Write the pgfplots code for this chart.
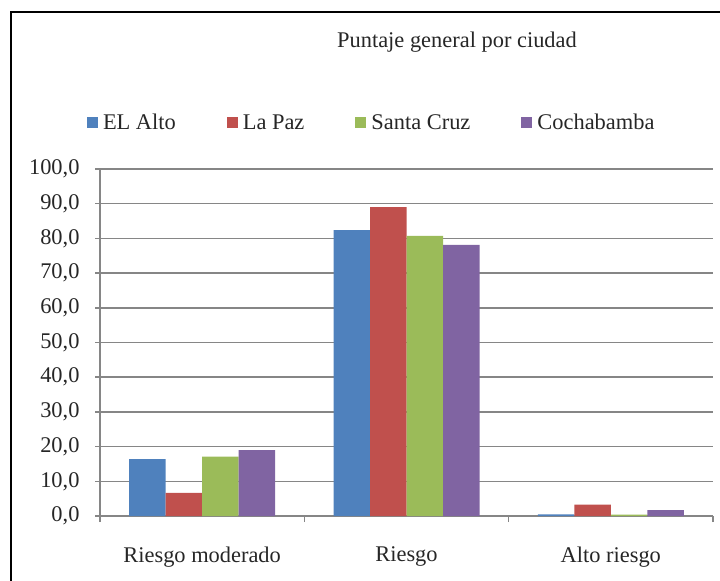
\documentclass[border=0pt]{standalone}
\usepackage{pgfplots}
\pgfplotsset{compat=1.18}
\usepackage{fontspec}
\setmainfont{Liberation Serif}
\definecolor{cAlto}{HTML}{4F81BD}
\definecolor{cPaz}{HTML}{C0504D}
\definecolor{cCruz}{HTML}{9BBB59}
\definecolor{cCbba}{HTML}{8064A2}
\definecolor{gridgray}{HTML}{868686}
\definecolor{txt}{HTML}{262626}
\newcommand{\chartfont}{\fontsize{22.5}{27}\selectfont}
\pgfplotsset{sqleg/.style={legend image code/.code={\fill (0bp,-5.5bp) rectangle (11bp,5.5bp);}}}
\begin{document}
\begin{tikzpicture}
\useasboundingbox (0bp,0bp) rectangle (720bp,-581bp);
\clip (0bp,0bp) rectangle (720bp,-581bp);
% marco exterior
\draw[line width=1.6bp, black] (11bp,-700bp) -- (11bp,-12bp) -- (800bp,-12bp);
\node[font=\chartfont, text=txt] at (457bp,-42bp) {Puntaje general por ciudad};
\begin{axis}[
  at={(100bp,-516bp)}, anchor=south west,
  scale only axis, width=613bp, height=347bp,
  ybar=0pt, bar width=36.5bp,
  xmin=-0.5, xmax=2.5, ymin=0, ymax=100,
  xtick={0,1,2},
  xticklabels={Riesgo moderado, Riesgo, Alto riesgo},
  minor xtick={-0.5,0.5,1.5,2.5},
  ytick={0,10,...,100},
  axis x line*=bottom, axis y line*=left,
  axis line style={draw=gridgray, line width=1.5bp, -},
  tick align=outside,
  major tick length=5bp, minor tick length=6bp,
  xtick style={draw=none},
  minor x tick style={draw=gridgray, line width=1.5bp},
  ytick style={draw=gridgray, line width=1.5bp},
  ymajorgrids,
  major grid style={draw=gridgray, line width=1.5bp},
  tick label style={font=\chartfont, text=txt},
  /pgf/number format/assume math mode=true,
  yticklabel style={xshift=-12bp, /pgf/number format/.cd, fixed, fixed zerofill, precision=1, use comma},
  xticklabel style={yshift=-22bp},
  legend columns=4,
  legend style={at={(axis description cs:-0.0212,1.134)}, anchor=west,
    draw=none, fill=none, inner sep=0pt, outer sep=0pt,
    font=\chartfont, text=txt, nodes={inner sep=0pt},
    /tikz/every odd column/.append style={column sep=5bp},
    /tikz/every even column/.append style={column sep=51bp}},
]
\addplot[fill=cAlto, draw=none, sqleg] coordinates {(0,16.4) (1,82.4) (2,0.5)};
\addlegendentry{EL Alto}
\addplot[fill=cPaz, draw=none, sqleg] coordinates {(0,6.7) (1,89.0) (2,3.3)};
\addlegendentry{La Paz}
\addplot[fill=cCruz, draw=none, sqleg] coordinates {(0,17.1) (1,80.7) (2,0.4)};
\addlegendentry{Santa Cruz}
\addplot[fill=cCbba, draw=none, sqleg] coordinates {(0,19.0) (1,78.1) (2,1.7)};
\addlegendentry{Cochabamba}
\end{axis}
\end{tikzpicture}
\end{document}
